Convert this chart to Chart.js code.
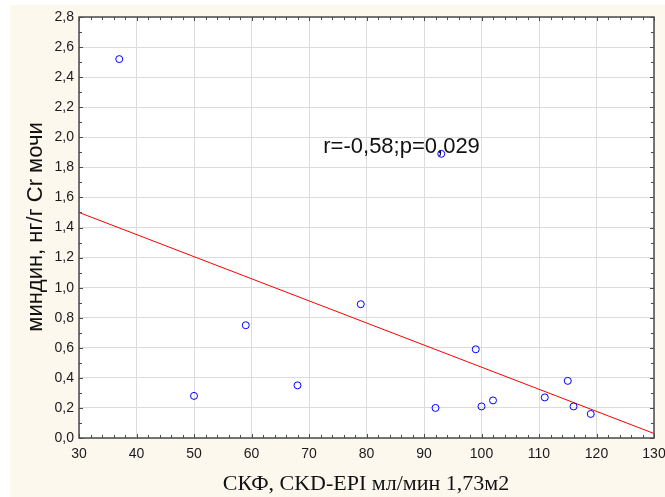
<!DOCTYPE html>
<html>
<head>
<meta charset="utf-8">
<script src="https://cdn.jsdelivr.net/npm/chart.js@4/dist/chart.umd.min.js"></script>
<style>
  html, body { margin: 0; padding: 0; background: #fff; }
  #wrap { width: 665px; height: 497px; }
</style>
</head>
<body>
<div id="wrap"><canvas id="myChart" width="665" height="497"></canvas></div>
<script>
(function () {
  "use strict";

  // СКФ (x) и миндин (y) по пациентам
  var gfr = [37, 50, 59, 68, 79, 92, 93, 99, 100, 102, 111, 115, 116, 119];
  var mindin = [2.52, 0.28, 0.75, 0.35, 0.89, 0.20, 1.89, 0.59, 0.21, 0.25, 0.27, 0.38, 0.21, 0.16];

  // линия регрессии по концам оси
  var fitX = [30, 130];
  var fitY = [1.50, 0.03];

  var xTitle = "СКФ, CKD-EPI мл/мин 1,73м2";
  var yTitle = "миндин, нг/г Cr мочи";
  var note = "r=-0,58;p=0,029";

  var points = gfr.map(function (v, i) { return { x: v, y: mindin[i] }; });
  var fitLine = fitX.map(function (v, i) { return { x: v, y: fitY[i] }; });

  var cream = "#fcf8ee";
  var axisColor = "#4b4b4b";
  var sans = "'Liberation Sans', Arial, sans-serif";

  var frame = {
    id: "frame",
    beforeDraw: function (chart) {
      var c = chart.ctx, a = chart.chartArea;
      c.save();
      c.fillStyle = "#fff";
      c.fillRect(0, 0, chart.width, chart.height);
      c.fillStyle = cream;
      c.fillRect(10, 5, chart.width - 10, chart.height - 5);
      c.fillStyle = "#fff";
      c.fillRect(a.left, a.top, a.right - a.left, a.bottom - a.top);
      c.restore();
    },
    afterDraw: function (chart) {
      var c = chart.ctx, a = chart.chartArea;
      var xs = chart.scales.x, ys = chart.scales.y;
      c.save();
      c.strokeStyle = axisColor;
      c.lineWidth = 1.5;
      c.strokeRect(a.left, a.top, a.right - a.left, a.bottom - a.top);

      // засечки внутрь по всем четырём сторонам
      c.lineWidth = 1;
      c.beginPath();
      var v, p, len;
      for (v = 30; v <= 130; v += 2) {
        p = Math.round(xs.getPixelForValue(v)) + 0.5;
        len = v % 10 === 0 ? 4 : 3;
        c.moveTo(p, a.bottom); c.lineTo(p, a.bottom - len);
        c.moveTo(p, a.top); c.lineTo(p, a.top + len);
      }
      for (var k = 0; k <= 28; k++) {
        p = Math.round(ys.getPixelForValue(k / 10)) + 0.5;
        len = k % 2 === 0 ? 4 : 3;
        c.moveTo(a.left, p); c.lineTo(a.left + len, p);
        c.moveTo(a.right, p); c.lineTo(a.right - len, p);
      }
      c.stroke();

      // подписи осей
      c.fillStyle = "#111";
      c.textAlign = "center";
      c.textBaseline = "middle";
      c.font = "22px 'Liberation Serif', 'Times New Roman', serif";
      c.fillText(xTitle, 366, 484);
      c.save();
      c.translate(36, 227);
      c.rotate(-Math.PI / 2);
      c.font = "22px " + sans;
      c.fillText(yTitle, 0, 0);
      c.restore();

      // коэффициент корреляции
      c.font = "22px " + sans;
      c.fillText(note, xs.getPixelForValue(86.1), ys.getPixelForValue(1.935));
      c.restore();
    }
  };

  var ctx = document.getElementById("myChart");
  var myChart = new Chart(ctx, {
    type: "scatter",
    data: {
      datasets: [
        {
          data: points,
          pointStyle: "circle",
          pointRadius: 3.5,
          pointHoverRadius: 3.5,
          borderWidth: 1,
          borderColor: "#0000ff",
          backgroundColor: "rgba(0,0,0,0)",
        },
        {
          type: "line",
          data: fitLine,
          borderColor: "#ff0000",
          borderWidth: 1,
          pointRadius: 0,
          fill: false,
        },
      ],
    },
    options: {
      responsive: false,
      animation: false,
      events: [],
      layout: { padding: { left: 0, top: 17, right: 0, bottom: 0 } },
      plugins: { legend: { display: false }, tooltip: { enabled: false } },
      scales: {
        x: {
          type: "linear",
          min: 30,
          max: 130,
          afterFit: function (s) {
            s.height = 59;
            s.paddingRight = 11;
          },
          grid: { color: "#dcdcdc", drawTicks: false },
          border: { display: false },
          ticks: {
            stepSize: 10,
            padding: 8,
            color: "#1a1a1a",
            font: { family: sans, size: 14 },
          },
        },
        y: {
          type: "linear",
          min: 0,
          max: 2.8,
          afterFit: function (s) { s.width = 79; },
          grid: { color: "#dcdcdc", drawTicks: false },
          border: { display: false },
          ticks: {
            stepSize: 0.2,
            padding: 5,
            color: "#1a1a1a",
            font: { family: sans, size: 14 },
            callback: function (v) { return v.toFixed(1).replace(".", ","); },
          },
        },
      },
    },
    plugins: [frame],
  });
})();
</script>
</body>
</html>
